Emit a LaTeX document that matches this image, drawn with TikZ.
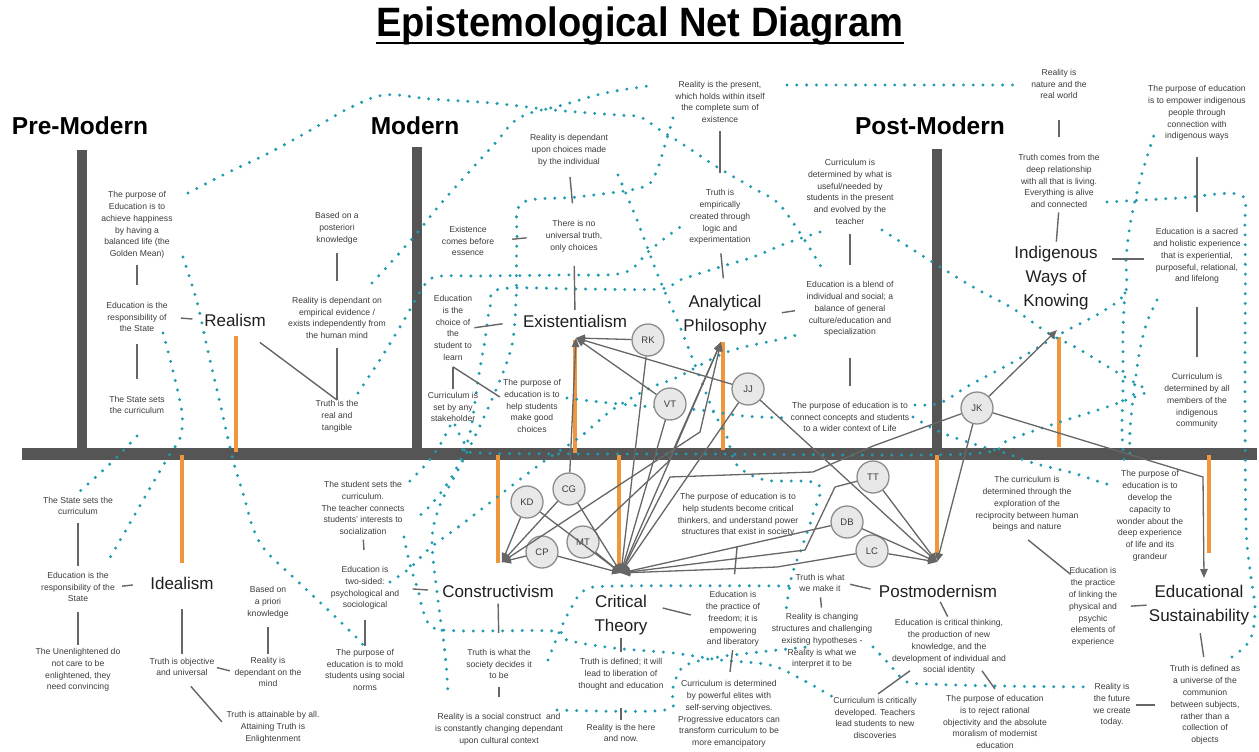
\documentclass[tikz,border=0pt]{standalone}
\usepackage{fontspec}
\setmainfont{Liberation Sans}
\usetikzlibrary{arrows.meta,calc}
\definecolor{bargray}{HTML}{555555}
\definecolor{orng}{HTML}{F0963C}
\definecolor{tealdot}{HTML}{229BAE}
\definecolor{lnkgray}{HTML}{666666}
\definecolor{txtgray}{HTML}{3C3C3C}
\definecolor{cfill}{HTML}{E8E8E8}
\definecolor{cdraw}{HTML}{8C8C8C}
\tikzset{
 txt/.style={align=center, font=\fontsize{8.6}{11.8}\selectfont, text=txtgray, inner sep=0pt},
 big/.style={align=center, font=\fontsize{17}{24}\selectfont, text=black!88, inner sep=0pt},
 hdr/.style={font=\fontsize{24.5}{28}\selectfont\bfseries, inner sep=0pt, anchor=base},
 obar/.style={draw=orng, line width=4pt},
 lnk/.style={draw=lnkgray, line width=1.3pt},
 arr/.style={lnk, -{Triangle[length=9pt,width=7.5pt]}},
 tick/.style={draw=lnkgray, line width=1.4pt},
 person/.style={circle, fill=cfill, draw=cdraw, line width=1.3pt, minimum size=32pt, inner sep=0pt, font=\fontsize{9.5}{10}\selectfont, text=txtgray},
 dots/.style={draw=tealdot, line width=3.3pt, line cap=round, dash pattern=on 0pt off 9.8pt},
}
\newcommand\tlink[4]{\draw[tick] ($(#1)!#3!(#2)$) -- ($(#1)!#4!(#2)$);}
\begin{document}
\begin{tikzpicture}[x=1pt,y=-1pt]
\useasboundingbox (0,0) rectangle (1259,752);
% ---------- title and headers
\node[font=\fontsize{41}{46}\selectfont\bfseries, inner sep=0pt, anchor=base] (title) at (640,37) {\scalebox{0.93}[1]{Epistemological Net Diagram}};
\draw[line width=2.6pt] ($(title.base west)+(0,6)$) -- ($(title.base east)+(0,6)$);
\node[hdr] (hpre) at (80,135) {Pre-Modern};
\node[hdr] (hmod) at (415,135) {Modern};
\node[hdr] (hpost) at (930,135) {Post-Modern};
% ---------- gray bars
\fill[bargray] (77,150) rectangle (87,454);
\fill[bargray] (412,147) rectangle (422,454);
\fill[bargray] (932,149) rectangle (942,454);
\fill[bargray] (22,448) rectangle (1257,460);
% ---------- orange bars
\draw[obar] (236,336) -- (236,452);
\draw[obar] (182,455) -- (182,563);
\draw[obar] (575,340) -- (575,453);
\draw[obar] (723,342) -- (723,450);
\draw[obar] (498,455) -- (498,563);
\draw[obar] (619,455) -- (619,573);
\draw[obar] (1059,337) -- (1059,447);
\draw[obar] (937,455) -- (937,558);
\draw[obar] (1209,455) -- (1209,553);
% ---------- hubs
\coordinate (hEx) at (576,338);
\coordinate (hAP) at (721,342);
\coordinate (hCo) at (502,562);
\coordinate (hCT) at (621,573);
\coordinate (hPM) at (937,562);
\coordinate (hIW) at (1057,330);
\coordinate (hES) at (1204,578);
% ---------- dotted net
% reality
\draw[dots] plot[smooth,tension=0.55] coordinates {(188,193) (227,173) (265,155) (302,135) (340,113) (360,103) (378,96) (398,95) (430,99) (492,103) (553,110) (617,115) (640,117) (660,130) (687,147) (717,167) (753,188) (778,203) (800,233) (817,260) (823,270)};
\draw[dots] plot[smooth,tension=0.55] coordinates {(372,283) (395,258) (417,233) (438,207) (468,173) (498,140) (512,123) (530,113) (563,105) (605,93) (655,85)};
\draw[dots] (787,85) -- (1015,85);
\draw[dots] plot[smooth,tension=0.55] coordinates {(673,118) (665,145) (655,175) (640,188) (577,197) (522,203) (517,240) (516,300) (512,345) (498,385) (478,430) (458,470) (440,505) (432,540) (438,600) (445,653) (448,693)};
\draw[dots] plot[smooth,tension=0.55] coordinates {(618,175) (637,220) (657,273) (680,327) (697,370) (713,410) (727,437) (737,465) (765,480) (818,484) (812,517) (802,547) (792,575) (786,610)};
\draw[dots] plot[smooth,tension=0.55] coordinates {(557,710) (665,710) (672,690) (683,667) (713,658) (750,653) (807,647)};
\draw[dots] plot[smooth,tension=0.55] coordinates {(873,647) (890,665) (905,681) (925,684) (1000,686) (1088,687)};
% truth
\draw[dots] plot[smooth,tension=0.55] coordinates {(358,393) (383,355) (407,315) (420,292) (435,277) (480,276) (560,275) (623,273) (648,252) (665,238) (683,225)};
\draw[dots] plot[smooth,tension=0.55] coordinates {(548,660) (558,635) (570,610) (585,590) (620,586) (790,586)};
\draw[dots] plot[smooth,tension=0.55] coordinates {(1107,202) (1180,198) (1240,195) (1245,230) (1245,400) (1246,525) (1250,570) (1255,610) (1250,640) (1232,657)};
% curriculum
\draw[dots] plot[smooth,tension=0.55] coordinates {(137,436) (112,462) (79,492)};
\draw[dots] plot[smooth,tension=0.55] coordinates {(455,425) (466,445) (482,453) (700,454) (967,454) (1010,439) (1057,423) (1107,407) (1148,392)};
\draw[dots] plot[smooth,tension=0.55] coordinates {(450,426) (440,445) (427,463) (406,485)};
\draw[dots] plot[smooth,tension=0.55] coordinates {(820,232) (787,243) (753,257) (720,267) (680,280) (660,289) (580,289) (500,289) (490,307) (485,340) (478,380) (470,433) (457,467) (445,487) (428,508) (414,520)};
\draw[dots] plot[smooth,tension=0.55] coordinates {(882,230) (937,265) (973,287) (1012,308) (1048,333) (1077,348) (1105,365) (1130,380) (1146,389)};
\draw[dots] plot[smooth,tension=0.55] coordinates {(404,537) (410,565) (418,590) (425,615) (443,630) (553,631) (567,640) (613,648) (673,653) (720,660) (770,665) (803,680) (833,697)};
% purpose
\draw[dots] plot[smooth,tension=0.55] coordinates {(183,257) (197,302) (207,347) (220,403) (233,460) (243,493) (253,528) (265,550) (293,577) (325,607) (356,637) (363,645)};
\draw[dots] plot[smooth,tension=0.55] coordinates {(567,398) (600,402) (653,407) (700,410) (743,416) (788,418)};
\draw[dots] plot[smooth,tension=0.55] coordinates {(913,417) (940,432) (977,445) (1005,453) (1033,463) (1073,473) (1103,483) (1115,486)};
\draw[dots] plot[smooth,tension=0.55] coordinates {(915,405) (940,403) (970,385) (1017,360) (1062,333) (1100,313) (1125,293) (1126,260) (1130,225) (1138,188) (1146,160) (1155,132)};
\draw[dots] plot[smooth,tension=0.55] coordinates {(1125,293) (1123,330) (1123,385) (1122,433) (1125,467)};
\draw[dots] plot[smooth,tension=0.55] coordinates {(1157,300) (1146,325) (1139,355) (1134,390) (1130,430) (1130,462)};
% education
\draw[dots] plot[smooth,tension=0.55] coordinates {(163,333) (172,367) (182,413) (180,438) (170,454) (153,483) (130,523) (107,563)};
\draw[dots] plot[smooth,tension=0.55] coordinates {(390,582) (410,568) (430,548) (457,528) (483,508) (543,462) (580,437) (612,410) (650,388) (678,377) (727,352) (777,340) (797,335)};
% ---------- Realism texts
\node[txt] (p1) at (137,225) {The purpose of\\Education is to\\achieve happiness\\by having a\\balanced life (the\\Golden Mean)};
\node[txt] (e1) at (137,317) {Education is the\\responsibility of\\the State};
\node[txt] (c1) at (137,405) {The State sets\\the curriculum};
\node[big] (realism) at (235,320) {Realism};
\node[txt] (post) at (337,228) {Based on a\\posteriori\\knowledge};
\node[txt] (r1) at (337,318) {Reality is dependant on\\empirical evidence /\\exists independently from\\the human mind};
\node[txt] (t1) at (337,416) {Truth is the\\real and\\tangible};
% ---------- Idealism texts
\node[txt] (c2) at (78,506) {The State sets the\\curriculum};
\node[txt] (e2) at (78,587) {Education is the\\responsibility of the\\State};
\node[big] (idealism) at (182,583) {Idealism};
\node[txt] (unen) at (78,670) {The Unenlightened do\\not care to be\\enlightened, they\\need convincing};
\node[txt] (t2) at (182,667) {Truth is objective\\and universal};
\node[txt] (apri) at (268,602) {Based on\\a priori\\knowledge};
\node[txt] (r2) at (268,672) {Reality is\\dependant on the\\mind};
\node[txt] (attain) at (273,727) {Truth is attainable by all.\\Attaining Truth is\\Enlightenment};
% ---------- Existentialism texts
\node[txt] (exess) at (468,241) {Existence\\comes before\\essence};
\node[txt] (r3) at (569,150) {Reality is dependant\\upon choices made\\by the individual};
\node[txt] (t3) at (574,236) {There is no\\universal truth,\\only choices};
\node[big] (exist) at (575,321) {Existentialism};
\node[txt] (e3) at (453,328) {Education\\is the\\choice of\\the\\student to\\learn};
\node[txt] (c3) at (453,407) {Curriculum is\\set by any\\stakeholder};
\node[txt] (p2) at (532,406) {The purpose of\\education is to\\help students\\make good\\choices};
% ---------- Analytical Philosophy texts
\node[txt] (r4) at (720,102) {Reality is the present,\\which holds within itself\\the complete sum of\\existence};
\node[txt] (t4) at (720,217) {Truth is\\empirically\\created through\\logic and\\experimentation};
\node[big] (anphil) at (725,315) {Analytical\\Philosophy};
\node[txt] (c4) at (850,192) {Curriculum is\\determined by what is\\useful/needed by\\students in the present\\and evolved by the\\teacher};
\node[txt] (e4) at (850,309) {Education is a blend of\\individual and social; a\\balance of general\\culture/education and\\specialization};
\node[txt] (p3) at (850,417) {The purpose of education is to\\connect concepts and students\\to a wider context of Life};
% ---------- Constructivism texts
\node[txt] (c5) at (363,508) {The student sets the\\curriculum.\\The teacher connects\\students' interests to\\socialization};
\node[txt] (e5) at (365,588) {Education is\\two-sided:\\psychological and\\sociological};
\node[txt] (p4) at (365,670) {The purpose of\\education is to mold\\students using social\\norms};
\node[big] (constr) at (498,591) {Constructivism};
\node[txt] (t5) at (499,664) {Truth is what the\\society decides it\\to be};
\node[txt] (r5) at (499,729) {Reality is a social construct\ \ and\\is constantly changing dependant\\upon cultural context};
% ---------- Critical Theory texts
\node[big] (crit) at (621,615) {Critical\\Theory};
\node[txt] (t6) at (621,674) {Truth is defined; it will\\lead to liberation of\\thought and education};
\node[txt] (r6) at (621,733) {Reality is the here\\and now.};
\node[txt] (e6) at (733,619) {Education is\\the practice of\\freedom; it is\\empowering\\and liberatory};
\node[txt] (c6) at (729,714) {Curriculum is determined\\by powerful elites with\\self-serving objectives.\\Progressive educators can\\transform curriculum to be\\more emancipatory};
\node[txt] (p5) at (738,515) {The purpose of education is to\\help students become critical\\thinkers, and understand power\\structures that exist in society};
% ---------- Postmodernism texts
\node[txt] (t7) at (820,583) {Truth is what\\we make it};
\node[big] (postm) at (938,591) {Postmodernism};
\node[txt] (r7) at (822,641) {Reality is changing\\structures and challenging\\existing hypotheses -\\Reality is what we\\interpret it to be};
\node[txt] (e7) at (949,647) {Education is critical thinking,\\the production of new\\knowledge, and the\\development of individual and\\social identity};
\node[txt] (c7) at (875,718) {Curriculum is critically\\developed. Teachers\\lead students to new\\discoveries};
\node[txt] (p6) at (995,722) {The purpose of education\\is to reject rational\\objectivity and the absolute\\moralism of modernist\\education};
% ---------- Indigenous texts
\node[txt] (r8) at (1059,84) {Reality is\\nature and the\\real world};
\node[txt] (t8) at (1059,181) {Truth comes from the\\deep relationship\\with all that is living.\\Everything is alive\\and connected};
\node[big] (indig) at (1056,278) {Indigenous\\Ways of\\Knowing};
\node[txt] (p7) at (1197,113) {The purpose of education\\is to empower indigenous\\people through\\connection with\\indigenous ways};
\node[txt] (e8) at (1197,256) {Education is a sacred\\and holistic experience\\that is experiential,\\purposeful, relational,\\and lifelong};
\node[txt] (c8) at (1197,401) {Curriculum is\\determined by all\\members of the\\indigenous\\community};
% ---------- Educational Sustainability texts
\node[txt] (c9) at (1027,504) {The curriculum is\\determined through the\\exploration of the\\reciprocity between human\\beings and nature};
\node[txt] (e9) at (1093,607) {Education is\\the practice\\of linking the\\physical and\\psychic\\elements of\\experience};
\node[big] (edsus) at (1199,605) {Educational\\Sustainability};
\node[txt] (p8) at (1150,516) {The purpose of\\education is to\\develop the\\capacity to\\wonder about the\\deep experience\\of life and its\\grandeur};
\node[txt] (t9) at (1205,705) {Truth is defined as\\a universe of the\\communion\\between subjects,\\rather than a\\collection of\\objects};
\node[txt] (r9) at (1112,705) {Reality is\\the future\\we create\\today.};
% ---------- short text connectors
\tlink{p1.south}{e1.north}{0.15}{0.62}
\tlink{e1.south}{c1.north}{0.19}{0.74}
\tlink{e1.east}{realism.west}{0.36}{0.68}
\tlink{post.south}{r1.north}{0.17}{0.69}
\draw[tick] ($(r1.south)+(0,9)$) -- (t1.north);
\draw[tick] ($(realism.south east)+(-6,16)$) -- (t1.north);
\tlink{c2.south}{e2.north}{0.13}{0.9}
\tlink{e2.east}{idealism.west}{0.2}{0.51}
\tlink{e2.south}{unen.north}{0.22}{0.93}
\tlink{idealism.south}{t2.north}{0.29}{0.94}
\tlink{t2.east}{r2.west}{0.12}{0.77}
\tlink{apri.south}{r2.north}{0.24}{0.92}
\tlink{t2.south}{attain.west}{0.2}{0.9}
\tlink{exess.east}{t3.west}{0.35}{0.63}
\tlink{r3.south}{t3.north}{0.2}{0.69}
\tlink{t3.south}{exist.north}{0.22}{0.93}
\tlink{e3.east}{exist.west}{0.04}{0.6}
\draw[tick] ($(e3.south)+(0,6)$) -- ($(c3.north)+(0,-3)$);
\draw[tick] ($(e3.south)+(0,6)$) -- ($(p2.west)+(-3,-9)$);
\tlink{r4.south}{t4.north}{0.12}{0.75}
\tlink{t4.south}{anphil.north}{0.17}{0.67}
\tlink{anphil.east}{e4.west}{0.38}{0.71}
\tlink{c4.south}{e4.north}{0.17}{0.71}
\tlink{e4.south}{p3.north}{0.32}{0.75}
\tlink{c5.south}{e5.north}{0.15}{0.48}
\tlink{e5.south}{p4.north}{0.26}{0.92}
\tlink{e5.east}{constr.west}{0.31}{0.67}
\tlink{constr.south}{t5.north}{0.12}{0.69}
\tlink{t5.south}{r5.north}{0.24}{0.52}
\tlink{crit.south}{t6.north}{0.13}{0.74}
\tlink{t6.south}{r6.north}{0.52}{0.88}
\draw[tick] ($(crit.east)+(15,-7)$) -- ($(e6.west)+(-15,-4)$);
\tlink{e6.south}{c6.north}{0.1}{0.75}
\tlink{p5.south}{e6.north}{0.17}{0.69}
\tlink{t7.east}{postm.west}{0.16}{0.76}
\tlink{t7.south}{r7.north}{0.24}{0.73}
\tlink{postm.south}{e7.north}{0.2}{0.88}
\draw[tick] ($(e7.south)+(-39,-4)$) -- ($(c7.north)+(3,-3)$);
\draw[tick] ($(e7.south)+(33,-4)$) -- ($(p6.north)+(0,-6)$);
\tlink{r8.south}{t8.north}{0.38}{0.69}
\tlink{t8.south}{indig.north}{0.12}{0.89}
\draw[tick] ($(indig.east)+(14,-19)$) -- ($(e8.west)+(-9,3)$);
\tlink{p7.south}{e8.north}{0.19}{0.81}
\tlink{e8.south}{c8.north}{0.26}{0.82}
\draw[tick] ($(c9.south)+(1,8)$) -- ($(e9.north west)+(2,7)$);
\tlink{e9.east}{edsus.west}{0.43}{0.93}
\tlink{edsus.south}{t9.north}{0.2}{0.79}
\tlink{r9.east}{t9.west}{0.12}{0.62}
% ---------- people
\node[person] (rk) at (648,340) {RK};
\node[person] (vt) at (670,404) {VT};
\node[person] (jj) at (748,389) {JJ};
\node[person] (cg) at (569,489) {CG};
\node[person] (kd) at (527,502) {KD};
\node[person] (cp) at (542,552) {CP};
\node[person] (mt) at (583,542) {MT};
\node[person] (tt) at (873,477) {TT};
\node[person] (db) at (847,522) {DB};
\node[person] (lc) at (872,551) {LC};
\node[person] (jk) at (977,408) {JK};
% ---------- links
\draw[arr] (rk) -- (hEx);
\draw[arr] (vt) -- (hEx);
\draw[arr] (jj) -- (hEx);
\draw[arr] (cg) -- (hEx);
\draw[arr] (mt) -- (668,462) -- (hAP);
\draw[arr] (hCo) -- (700,432) -- (hAP);
\draw[arr] (hCT) -- (hAP);
\draw[arr] (rk) -- (hCT);
\draw[arr] (vt) -- (hCT);
\draw[arr] (jj) -- (hCT);
\draw[arr] (cg) -- (hCT);
\draw[arr] (kd) -- (hCT);
\draw[arr] (mt) -- (hCT);
\draw[arr] (cp) -- (hCT);
\draw[arr] (tt) -- (835,487) -- (805,550) -- (hCT);
\draw[arr] (db) -- (hCT);
\draw[arr] (lc) -- (777,567) -- (hCT);
\draw[arr] (jk) -- (873,446) -- (813,472) -- (670,477) -- (hCT);
\draw[arr] (kd) -- (hCo);
\draw[arr] (cp) -- (hCo);
\draw[arr] (cg) -- (hCo);
\draw[arr] (jj) -- (hPM);
\draw[arr] (tt) -- (hPM);
\draw[arr] (db) -- (hPM);
\draw[arr] (lc) -- (hPM);
\draw[arr] (jk) -- (hPM);
\draw[arr] (jk) -- (hIW);
\draw[arr] (jk) -- (1203,477) -- (hES);
\end{tikzpicture}
\end{document}
